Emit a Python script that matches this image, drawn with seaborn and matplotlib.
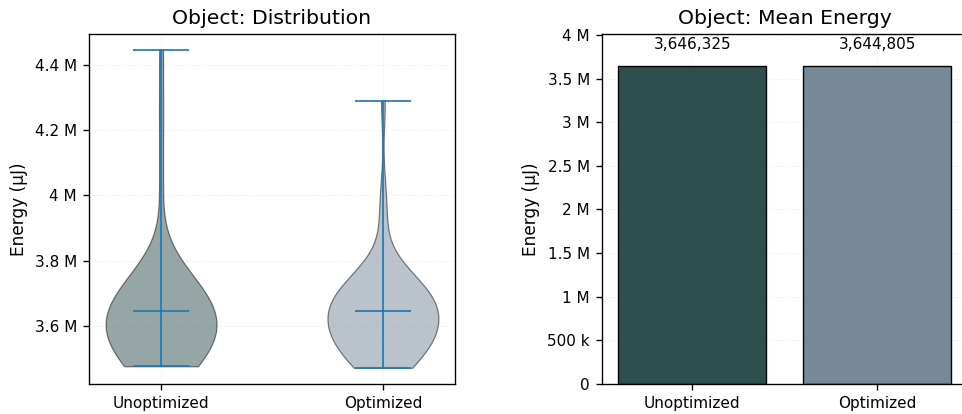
import numpy as np
import pandas as pd
import matplotlib
matplotlib.use("Agg")
import matplotlib.pyplot as plt
from matplotlib.ticker import EngFormatter
import seaborn as sns

# Energy per run, in millions of µJ (estimated from the violins)
unoptimized_mj = [
    3.4755, 3.478, 3.481, 3.483, 3.4865, 3.492, 3.497, 3.5025, 3.508, 3.5135,
    3.519, 3.524, 3.5295, 3.535, 3.5405, 3.546, 3.551, 3.578, 3.5835, 3.589,
    3.5945, 3.600, 3.605, 3.6105, 3.616, 3.6215, 3.627, 3.632, 3.6375, 3.643,
    3.6485, 3.6527, 3.658, 3.664, 3.670, 3.676, 3.683, 3.690, 3.698, 3.706,
    3.715, 3.720, 3.725, 3.7366, 3.751, 3.7717, 3.800, 4.050, 4.250, 4.447,
]
optimized_mj = [
    3.4708, 3.4773, 3.4838, 3.4904, 3.4969, 3.5034, 3.510, 3.5165, 3.523, 3.5295,
    3.536, 3.5426, 3.5491, 3.5556, 3.5621, 3.5687, 3.5752, 3.5817, 3.5882, 3.5948,
    3.6013, 3.6078, 3.6143, 3.6209, 3.6274, 3.6339, 3.6404, 3.647, 3.6535, 3.660,
    3.6622, 3.6668, 3.6715, 3.6763, 3.6814, 3.6866, 3.6921, 3.6979, 3.7039, 3.7104,
    3.7172, 3.7247, 3.7328, 3.7419, 3.7525, 3.7655, 3.7843, 3.920, 4.000, 4.2908,
]

versions = ["Unoptimized", "Optimized"]
colors = ["darkslategray", "lightslategray"]
# mean energy per version (µJ), as labelled on the bars
mean_energy = [3646325, 3644805]

unoptimized = np.array(unoptimized_mj) * 1e6
optimized = np.array(optimized_mj) * 1e6

dpi = 122
fig = plt.figure(figsize=(7.8853, 3.3935), dpi=dpi)
ax1 = fig.add_axes([0.0925, 0.0732, 0.3805, 0.8447])
ax2 = fig.add_axes([0.6255, 0.0732, 0.3805, 0.8447])

## Violin plot of the distributions
parts = ax1.violinplot([unoptimized, optimized], showmeans=True, bw_method=0.55)
for body, c in zip(parts["bodies"], colors):
    body.set_facecolor(c)
    body.set_edgecolor("black")
    body.set_linewidth(0.7)
    body.set_alpha(0.5)
for key in ("cbars", "cmins", "cmaxes", "cmeans"):
    parts[key].set_linewidth(1.0)
ax1.set_xticks([1, 2], versions)
ax1.set_title("Object: Distribution", fontsize=12)
ax1.set_ylabel("Energy (µJ)", fontsize=10)
ax1.yaxis.set_major_formatter(EngFormatter())
ax1.grid(True, linestyle="--", linewidth=0.6, alpha=0.15)
ax1.set_axisbelow(True)

## Bar chart of the means
df = pd.DataFrame({"version": versions, "energy": mean_energy})
sns.barplot(data=df, x="version", y="energy", hue="version", palette=colors,
            saturation=1, edgecolor="black", linewidth=0.8, errorbar=None,
            legend=False, ax=ax2)
for cont in ax2.containers:
    ax2.bar_label(cont, fmt="{:,.0f}", padding=8, fontsize=9)
ax2.set_xlim(-0.49, 1.49)
ax2.set_ylim(0, max(mean_energy) * 1.1)
ax2.set_xlabel("")
ax2.set_ylabel("Energy (µJ)", fontsize=10)
ax2.set_title("Object: Mean Energy", fontsize=12)
ax2.yaxis.set_major_formatter(EngFormatter())
ax2.grid(True, linestyle="--", linewidth=0.6, alpha=0.15)
ax2.set_axisbelow(True)

for ax in (ax1, ax2):
    ax.tick_params(labelsize=9)

fig.savefig("out.png", dpi=dpi)
